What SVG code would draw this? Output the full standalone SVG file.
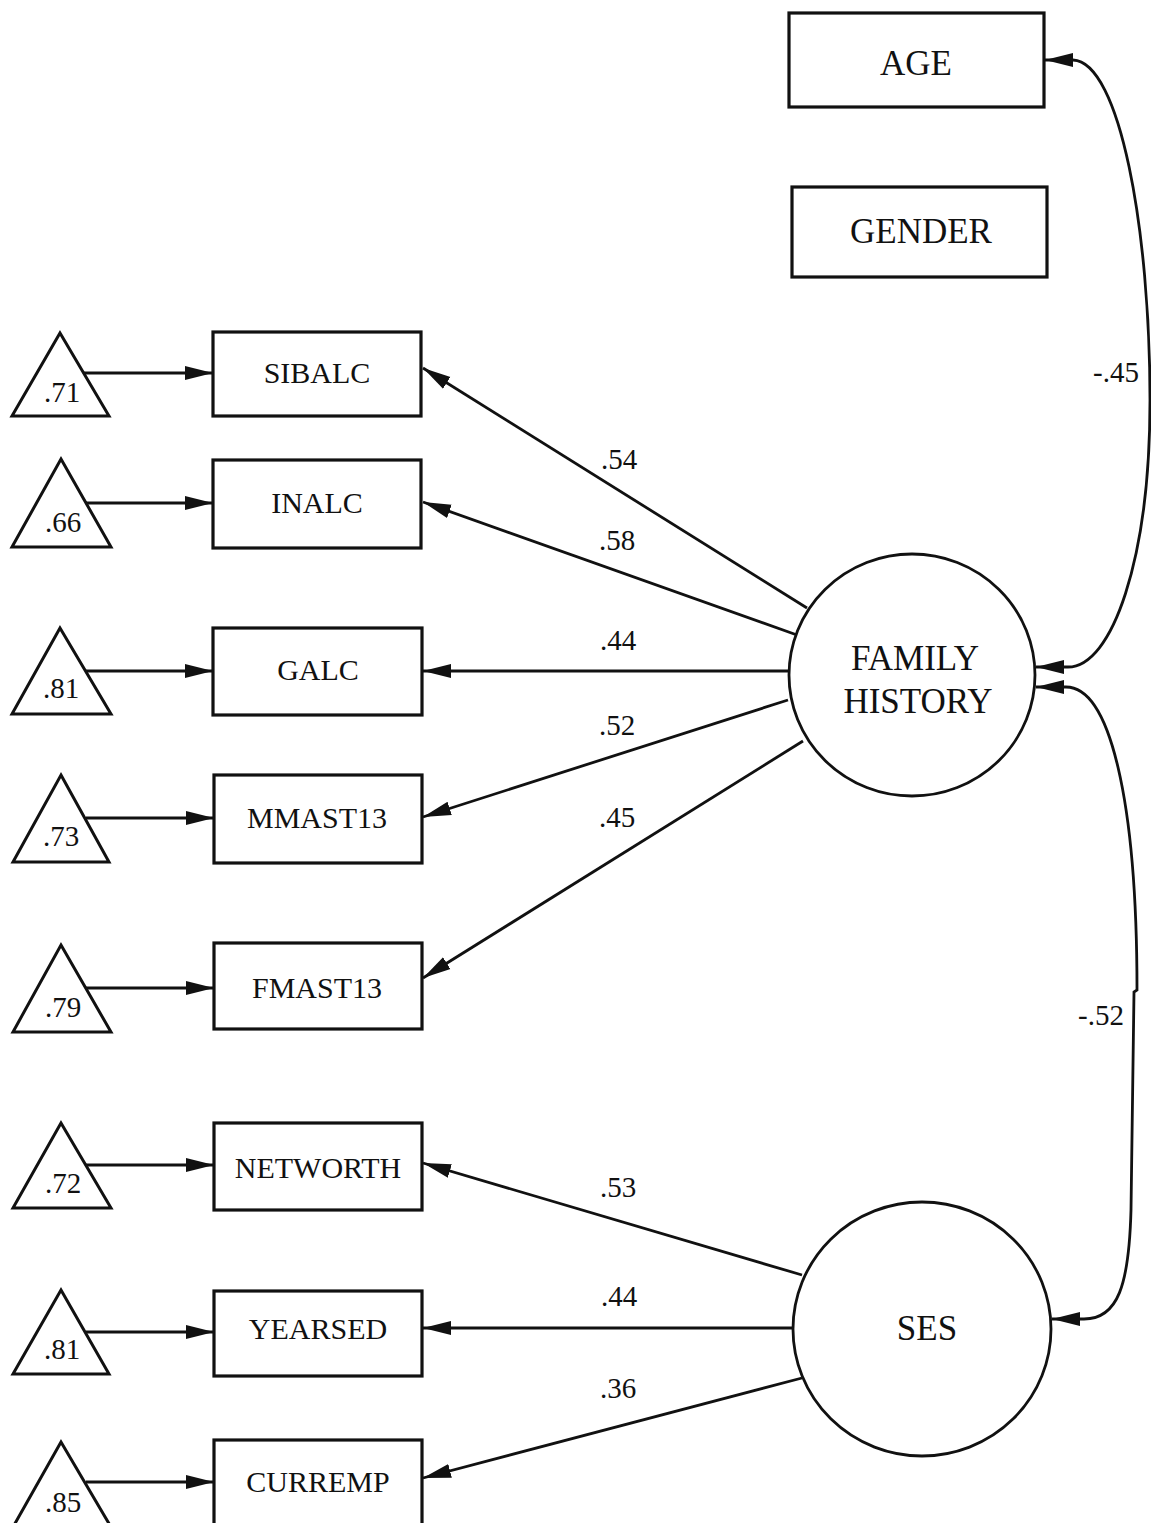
<svg xmlns="http://www.w3.org/2000/svg" width="1151" height="1523" viewBox="0 0 1151 1523">
  <style>
    .box { fill: #fff; stroke: #111; stroke-width: 3.2; }
    .err { fill: #fff; stroke: #111; stroke-width: 3; stroke-linejoin: miter; }
    .lat { fill: #fff; stroke: #111; stroke-width: 2.8; }
    .edge { fill: none; stroke: #111; stroke-width: 2.8; }
    text { font-family: "Liberation Serif", "Times New Roman", serif; fill: #111; text-anchor: middle; }
    .obs { font-size: 30px; }
    .big { font-size: 35px; }
    .num { font-size: 29px; }
  </style>
  <defs>
    <marker id="arrow" markerUnits="userSpaceOnUse" markerWidth="30" markerHeight="16" refX="28" refY="7" orient="auto-start-reverse" viewBox="0 0 30 14">
      <path d="M0,0 L28,7 L0,14 Z" fill="#111"/>
    </marker>
  </defs>
  <rect width="1151" height="1523" fill="#fff"/>

  <!-- connectors -->
  <g id="connectors">
    <!-- error terms to indicators -->
    <line class="edge" x1="84" y1="373" x2="213" y2="373" marker-end="url(#arrow)"/>
    <line class="edge" x1="86" y1="503" x2="213" y2="503" marker-end="url(#arrow)"/>
    <line class="edge" x1="86" y1="671" x2="213" y2="671" marker-end="url(#arrow)"/>
    <line class="edge" x1="86" y1="818" x2="214" y2="818" marker-end="url(#arrow)"/>
    <line class="edge" x1="86" y1="988" x2="214" y2="988" marker-end="url(#arrow)"/>
    <line class="edge" x1="86" y1="1165" x2="214" y2="1165" marker-end="url(#arrow)"/>
    <line class="edge" x1="86" y1="1332" x2="214" y2="1332" marker-end="url(#arrow)"/>
    <line class="edge" x1="86" y1="1482" x2="214" y2="1482" marker-end="url(#arrow)"/>

    <!-- FAMILY HISTORY loadings -->
    <line class="edge" x1="807" y1="608" x2="423" y2="368" marker-end="url(#arrow)"/>
    <line class="edge" x1="797" y1="635" x2="423" y2="502" marker-end="url(#arrow)"/>
    <line class="edge" x1="790" y1="671" x2="423" y2="671" marker-end="url(#arrow)"/>
    <line class="edge" x1="788" y1="700" x2="423" y2="817" marker-end="url(#arrow)"/>
    <line class="edge" x1="803" y1="741" x2="423" y2="978" marker-end="url(#arrow)"/>

    <!-- SES loadings -->
    <line class="edge" x1="802" y1="1275" x2="423" y2="1163" marker-end="url(#arrow)"/>
    <line class="edge" x1="793" y1="1328" x2="423" y2="1328" marker-end="url(#arrow)"/>
    <line class="edge" x1="802" y1="1378" x2="423" y2="1478" marker-end="url(#arrow)"/>

    <!-- correlations -->
    <path class="edge" d="M1036,667 L1068,667 C1112,667 1150,560 1150,400 C1150,230 1120,62 1073,60 L1045,60" marker-start="url(#arrow)" marker-end="url(#arrow)"/>
    <path class="edge" d="M1036,687 L1066,687 C1110,687 1137,800 1137,990 L1134,992 L1131,1210 C1129,1285 1118,1319 1084,1319 L1052,1319" marker-start="url(#arrow)" marker-end="url(#arrow)"/>

    <text class="num" x="619" y="469">.54</text>
    <text class="num" x="617" y="550">.58</text>
    <text class="num" x="618" y="650">.44</text>
    <text class="num" x="617" y="735">.52</text>
    <text class="num" x="617" y="827">.45</text>
    <text class="num" x="618" y="1197">.53</text>
    <text class="num" x="619" y="1306">.44</text>
    <text class="num" x="618" y="1398">.36</text>
    <text class="num" x="1116" y="382">-.45</text>
    <text class="num" x="1101" y="1025">-.52</text>
  </g>

  <!-- exogenous observed variables -->
  <g id="age"><rect class="box" x="789" y="13" width="255" height="94"/><text class="big" x="916" y="75">AGE</text></g>
  <g id="gender"><rect class="box" x="792" y="187" width="255" height="90"/><text class="big" x="921" y="243">GENDER</text></g>

  <!-- latent variables -->
  <g id="family-history">
    <ellipse class="lat" cx="912" cy="675" rx="123" ry="121"/>
    <text class="big" x="915" y="670">FAMILY</text>
    <text class="big" x="918" y="713">HISTORY</text>
  </g>
  <g id="ses">
    <ellipse class="lat" cx="922" cy="1329" rx="129" ry="127"/>
    <text class="big" x="927" y="1340">SES</text>
  </g>

  <!-- indicators -->
  <g id="sibalc"><rect class="box" x="213" y="332" width="208" height="84"/><text class="obs" x="317" y="383">SIBALC</text></g>
  <g id="inalc"><rect class="box" x="213" y="460" width="208" height="88"/><text class="obs" x="317" y="513">INALC</text></g>
  <g id="galc"><rect class="box" x="213" y="628" width="209" height="87"/><text class="obs" x="318" y="680">GALC</text></g>
  <g id="mmast13"><rect class="box" x="214" y="775" width="208" height="88"/><text class="obs" x="317" y="828">MMAST13</text></g>
  <g id="fmast13"><rect class="box" x="214" y="943" width="208" height="86"/><text class="obs" x="317" y="998">FMAST13</text></g>
  <g id="networth"><rect class="box" x="214" y="1123" width="208" height="87"/><text class="obs" x="318" y="1178">NETWORTH</text></g>
  <g id="yearsed"><rect class="box" x="214" y="1291" width="208" height="85"/><text class="obs" x="318" y="1339">YEARSED</text></g>
  <g id="curremp"><rect class="box" x="214" y="1440" width="208" height="100"/><text class="obs" x="318" y="1492">CURREMP</text></g>

  <!-- error terms -->
  <g id="e-sibalc"><polygon class="err" points="60,333 109,416 12,416"/><text class="num" x="62" y="402">.71</text></g>
  <g id="e-inalc"><polygon class="err" points="61,459 111,547 12,547"/><text class="num" x="63" y="532">.66</text></g>
  <g id="e-galc"><polygon class="err" points="60,628 111,714 12,714"/><text class="num" x="61" y="698">.81</text></g>
  <g id="e-mmast13"><polygon class="err" points="61,775 109,862 13,862"/><text class="num" x="61" y="846">.73</text></g>
  <g id="e-fmast13"><polygon class="err" points="61,945 111,1032 13,1032"/><text class="num" x="63" y="1017">.79</text></g>
  <g id="e-networth"><polygon class="err" points="61,1123 111,1208 13,1208"/><text class="num" x="63" y="1193">.72</text></g>
  <g id="e-yearsed"><polygon class="err" points="61,1290 109,1374 13,1374"/><text class="num" x="62" y="1359">.81</text></g>
  <g id="e-curremp"><polygon class="err" points="61,1442 111,1527 13,1527"/><text class="num" x="63" y="1512">.85</text></g>
</svg>
